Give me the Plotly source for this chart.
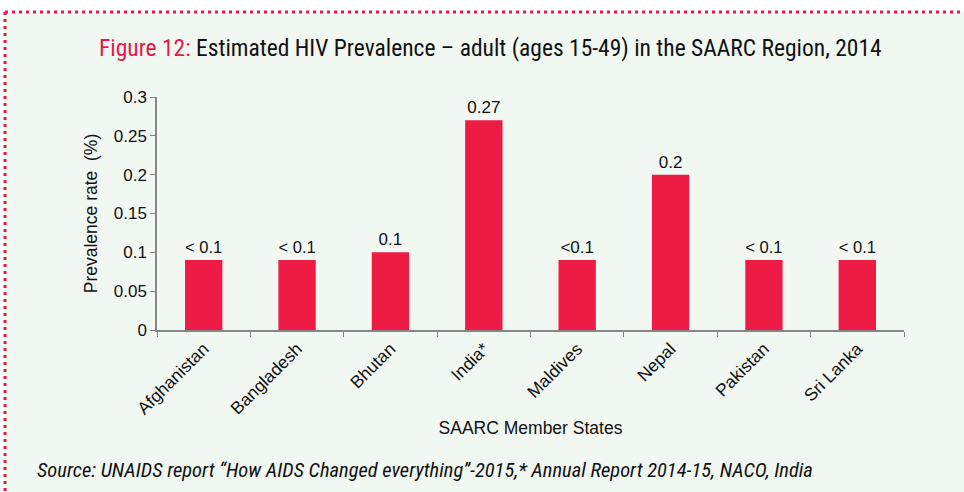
import plotly.graph_objects as go

# Data
countries = ["Afghanistan", "Bangladesh", "Bhutan", "India*", "Maldives",
             "Nepal", "Pakistan", "Sri Lanka"]
prevalence = [0.09, 0.09, 0.1, 0.27, 0.09, 0.2, 0.09, 0.09]
value_labels = ["< 0.1", "< 0.1", "0.1", "0.27", "<0.1", "0.2", "< 0.1", "< 0.1"]
y_ticks = [0, 0.05, 0.1, 0.15, 0.2, 0.25, 0.3]

W, H = 964, 492
L, R, T, B = 157, 60, 97, 162
pw, ph = W - L - R, H - T - B


def px(x):
    return (x - L) / pw


def py(y):
    return (H - B - y) / ph


BAR = "#ee1b45"
PINK = "#e8194a"
AXIS = "#868686"
BG = "#f1f7f1"
NARROW = "Liberation Sans Narrow, Roboto Condensed, Roboto, sans-serif"

fig = go.Figure()
fig.add_trace(go.Bar(
    x=countries,
    y=prevalence,
    marker=dict(color=BAR, line=dict(width=0)),
    text=value_labels,
    textposition="outside",
    textfont=dict(size=17, color="#111111"),
    cliponaxis=False,
    showlegend=False,
))

# white strip above/left of the framed panel, then dotted border
fig.add_shape(type="rect", xref="paper", yref="paper",
              x0=px(-5), x1=px(W + 5), y0=py(12), y1=py(-5),
              fillcolor="white", line=dict(width=0), layer="below")
fig.add_shape(type="rect", xref="paper", yref="paper",
              x0=px(-5), x1=px(5), y0=py(H + 5), y1=py(-5),
              fillcolor="white", line=dict(width=0), layer="below")
fig.add_shape(type="line", xref="paper", yref="paper",
              x0=px(5), x1=px(W + 5), y0=py(12), y1=py(12),
              line=dict(color=PINK, width=3, dash="3px,4px"))
fig.add_shape(type="line", xref="paper", yref="paper",
              x0=px(5), x1=px(5), y0=py(12), y1=py(H + 5),
              line=dict(color=PINK, width=3, dash="3px,4px"))

fig.add_annotation(
    xref="paper", yref="paper", x=px(490), y=py(48),
    xanchor="center", yanchor="middle", showarrow=False,
    text='<span style="color:%s">Figure 12:</span> Estimated HIV Prevalence \u2013 adult (ages 15-49) in the SAARC Region, 2014' % PINK,
    font=dict(size=23.5, color="#111111", family=NARROW),
)
fig.add_annotation(
    xref="paper", yref="paper", x=px(35), y=py(470),
    xanchor="left", yanchor="middle", showarrow=False,
    text="<i>Source: UNAIDS report \u201cHow AIDS Changed everything\u201d-2015,* Annual Report 2014-15, NACO, India</i>",
    font=dict(size=20.5, color="#111111", family=NARROW),
)

fig.update_layout(
    width=W, height=H,
    margin=dict(l=L, r=R, t=T, b=B),
    paper_bgcolor=BG, plot_bgcolor=BG,
    bargap=0.6,
    font=dict(family="Liberation Sans, Arial", size=16, color="#111111"),
    xaxis=dict(
        title=dict(text="SAARC Member States", font=dict(size=17.5), standoff=4),
        tickangle=-45, tickson="boundaries", ticks="outside", ticklen=5,
        tickcolor=AXIS, showline=True, linecolor=AXIS, linewidth=1.5,
        showgrid=False, automargin=False, tickfont=dict(size=17.5),
    ),
    yaxis=dict(
        title=dict(text="Prevalence rate  (%)", font=dict(size=17.5), standoff=12),
        range=[0, 0.3], tickvals=y_ticks, ticktext=[f"{v:g}" for v in y_ticks],
        ticks="outside", ticklen=5, tickcolor=AXIS, showline=True,
        linecolor=AXIS, linewidth=1.5, showgrid=False, zeroline=False,
        automargin=False, tickfont=dict(size=17),
    ),
)

# drop the browser's default body margin so the figure sits at the page corner
fig.write_html("out.html", config={"displayModeBar": False},
               post_script="document.body.style.margin = '0';")
